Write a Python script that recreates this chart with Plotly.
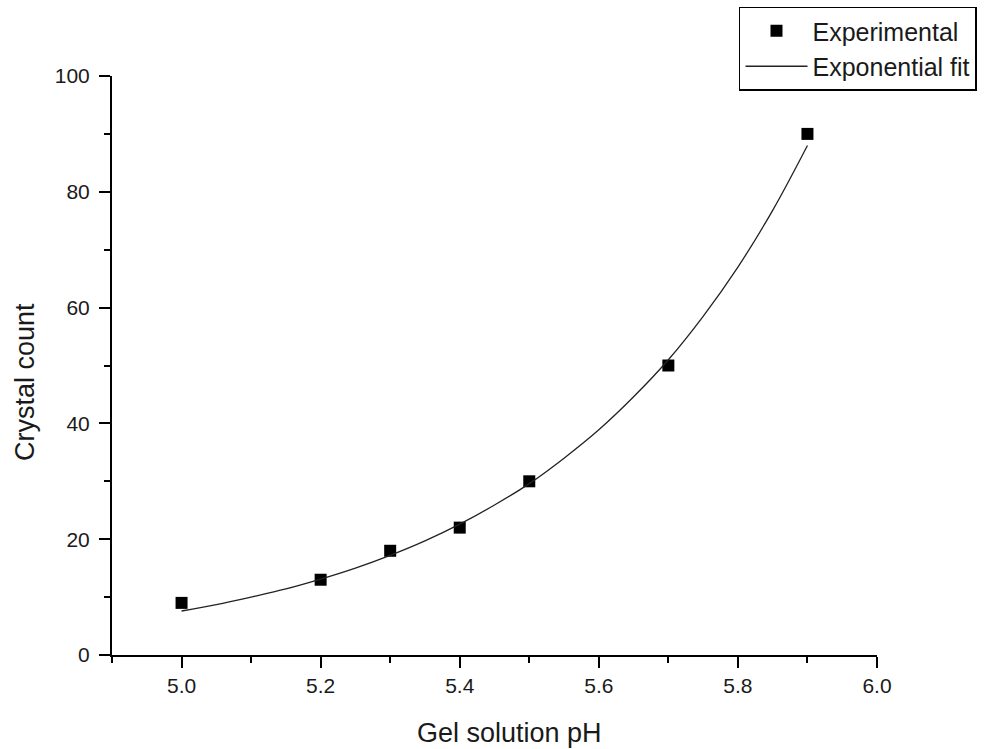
import plotly.graph_objects as go

ph_exp = [5.0, 5.2, 5.3, 5.4, 5.5, 5.7, 5.9]
count_exp = [9, 13, 18, 22, 30, 50, 90]

ph_fit = [5.0, 5.05, 5.1, 5.15, 5.2, 5.25, 5.3, 5.35, 5.4, 5.45, 5.5, 5.55,
          5.6, 5.65, 5.7, 5.75, 5.8, 5.85, 5.9]
count_fit = [7.6, 8.7, 10.0, 11.4, 13.1, 15.0, 17.2, 19.7, 22.6, 25.9, 29.6, 34.0,
             38.9, 44.6, 51.0, 58.5, 67.0, 76.8, 88.0]

x_title = "Gel solution pH"
y_title = "Crystal count"

FONT = "Liberation Sans, Arial, sans-serif"
TXT = "#1a1a1a"

fig = go.Figure()
fig.add_trace(go.Scatter(
    x=ph_exp, y=count_exp, mode="markers", name="Experimental",
    marker=dict(symbol="square", size=12, color="black"),
))
fig.add_trace(go.Scatter(
    x=ph_fit, y=count_fit, mode="lines", name="Exponential fit",
    line=dict(color="#222222", width=1.3, shape="spline"),
))

axis_common = dict(
    showline=True, linecolor="black", linewidth=2,
    ticks="outside", ticklen=11, tickwidth=2, tickcolor="black",
    showgrid=False, zeroline=False, mirror=False,
    tickfont=dict(family=FONT, size=21, color=TXT),
)

fig.update_layout(
    width=1006, height=749,
    margin=dict(l=112, r=129, t=76, b=94, autoexpand=False),
    paper_bgcolor="white", plot_bgcolor="white",
    font=dict(family=FONT, color=TXT),
    xaxis=dict(
        range=[4.9, 6.0], tick0=5.0, dtick=0.2, tickformat=".1f",
        minor=dict(dtick=0.1, tick0=4.9, ticks="outside", ticklen=6, tickwidth=2, tickcolor="black"),
        ticklabelstandoff=0,
        **axis_common,
    ),
    yaxis=dict(
        range=[0, 100], tick0=0, dtick=20,
        minor=dict(dtick=10, ticks="outside", ticklen=6, tickwidth=2, tickcolor="black"),
        ticklabelstandoff=5,
        **axis_common,
    ),
    legend=dict(
        x=0.8196, y=1.12, xanchor="left", yanchor="top",
        bgcolor="white", bordercolor="black", borderwidth=1.5,
        font=dict(family=FONT, size=25, color=TXT),
        tracegroupgap=0, itemwidth=62,
    ),
    annotations=[
        dict(text=x_title, xref="paper", yref="paper", x=0.519, y=-0.1347,
             xanchor="center", yanchor="middle", showarrow=False,
             font=dict(family=FONT, size=27, color=TXT)),
        dict(text=y_title, xref="paper", yref="paper", x=-0.1137, y=0.4715,
             xanchor="center", yanchor="middle", showarrow=False, textangle=-90,
             font=dict(family=FONT, size=27, color=TXT)),
    ],
)

fig.write_html("out.html")
